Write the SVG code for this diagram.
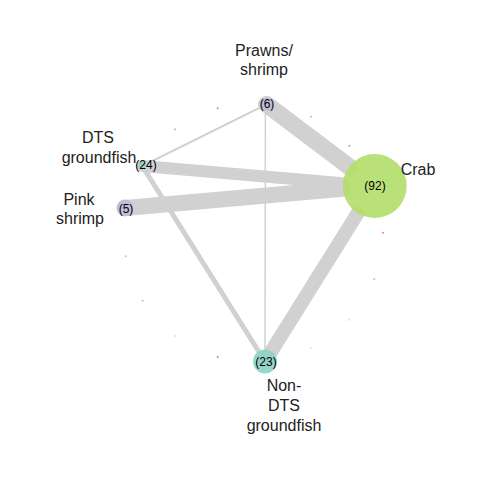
<svg xmlns="http://www.w3.org/2000/svg" width="480" height="480" viewBox="0 0 480 480">
<style>
.e{stroke:#d1d1d1;stroke-linecap:round;fill:none}
.lbl{font-family:"Liberation Sans",Arial,sans-serif;font-size:16px;fill:#222;text-anchor:middle}
.cnt{font-family:"Liberation Sans",Arial,sans-serif;font-size:12px;fill:#000;text-anchor:middle;dominant-baseline:central}
.n{fill-opacity:0.9}
</style>
<rect width="480" height="480" fill="#fff"/>
<g id="connectors">
<line class="e" x1="265.4" y1="104.3" x2="265" y2="361.5" style="stroke-width:1.5"/>
<line class="e" x1="142.3" y1="166" x2="266.5" y2="104.3" style="stroke-width:2"/>
<line class="e" x1="142.3" y1="166" x2="265" y2="361.5" style="stroke-width:5"/>
<line class="e" x1="266.5" y1="104.3" x2="349.2" y2="166.7" style="stroke-width:17"/>
<line class="e" x1="142.3" y1="166" x2="342.8" y2="183.3" style="stroke-width:12"/>
<line class="e" x1="125" y1="208" x2="342.8" y2="188.8" style="stroke-width:16"/>
<line class="e" x1="265" y1="361.5" x2="357.7" y2="213.1" style="stroke-width:14"/>
</g>
<g id="minor-nodes">
<circle cx="217.7" cy="108.3" r="1" fill="#BC80BD"/>
<circle cx="175" cy="129.3" r="1" fill="#8DD3C7"/>
<circle cx="311" cy="116.7" r="1" fill="#8DD3C7"/>
<circle cx="349.3" cy="145.7" r="1" fill="#80B1D3"/>
<circle cx="383" cy="232.7" r="1" fill="#FB8072"/>
<circle cx="374.3" cy="279.3" r="1" fill="#8DD3C7"/>
<circle cx="349.3" cy="319.7" r="1" fill="#FCCDE5"/>
<circle cx="311" cy="348.3" r="1" fill="#FFED6F"/>
<circle cx="125.7" cy="256.3" r="1" fill="#FDB462"/>
<circle cx="142.7" cy="300.7" r="1" fill="#FDB462"/>
<circle cx="175" cy="336" r="1" fill="#CCEBC5"/>
<circle cx="217.7" cy="357" r="1" fill="#BC80BD"/>
</g>
<g id="node-prawns">
<circle class="n" cx="266.5" cy="104.3" r="6.5" fill="#BEBADA"/>
<text class="cnt" x="267" y="104.3">(6)</text>
<text class="lbl" x="264" y="56">Prawns/</text>
<text class="lbl" x="264" y="75">shrimp</text>
</g>
<g id="node-dts">
<circle class="n" cx="142.3" cy="165" r="3.8" fill="#8DD3C7"/>
<text class="cnt" x="146" y="165">(24)</text>
<text class="lbl" x="98" y="143">DTS</text>
<text class="lbl" x="99" y="163">groundfish</text>
</g>
<g id="node-pink">
<circle class="n" cx="125" cy="208" r="8.5" fill="#BEBADA"/>
<text class="cnt" x="126" y="208.5">(5)</text>
<text class="lbl" x="79" y="205">Pink</text>
<text class="lbl" x="80" y="224">shrimp</text>
</g>
<g id="node-crab">
<circle class="n" cx="374.7" cy="186" r="32" fill="#B3DE69"/>
<text class="cnt" x="375" y="186">(92)</text>
<text class="lbl" x="418" y="175">Crab</text>
</g>
<g id="node-nondts">
<circle class="n" cx="265" cy="361.5" r="12" fill="#8DD3C7"/>
<text class="cnt" x="266" y="361.5">(23)</text>
<text class="lbl" x="284" y="391">Non-</text>
<text class="lbl" x="284" y="411">DTS</text>
<text class="lbl" x="284" y="431">groundfish</text>
</g>
</svg>
